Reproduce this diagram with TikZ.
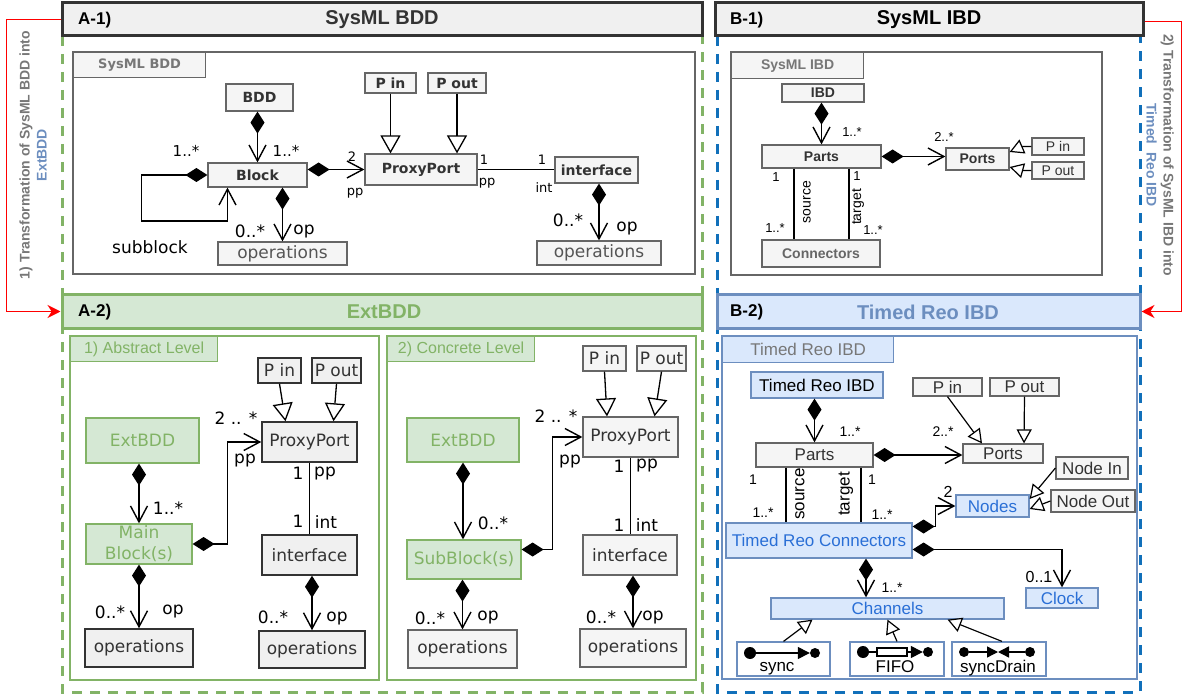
\documentclass[tikz,border=0pt]{standalone}
\usepackage{fontspec}
\setmainfont{Liberation Sans}
\newfontfamily\dv{DejaVu Sans}
\usetikzlibrary{arrows.meta,positioning}
\newcommand{\fsz}[1]{\fontsize{#1}{#1}\selectfont}
\definecolor{hdrgray}{HTML}{F0F0F0}
\definecolor{hdrline}{HTML}{333333}
\definecolor{boxfill}{HTML}{F5F5F5}
\definecolor{boxline}{HTML}{666666}
\definecolor{opgray}{HTML}{555555}
\definecolor{tabtext}{HTML}{777777}
\definecolor{grfill}{HTML}{D5E8D4}
\definecolor{grline}{HTML}{82B366}
\definecolor{blfill}{HTML}{DAE8FC}
\definecolor{blline}{HTML}{6C8EBF}
\definecolor{bltext}{HTML}{2A6FD6}
\definecolor{bldash}{HTML}{1170BA}
\tikzset{
  sz/.style 2 args={minimum width=#1pt, minimum height=#2pt},
  hdr/.style={draw=hdrline, line width=3pt, fill=hdrgray, inner sep=0pt},
  frame/.style={draw=boxline, line width=1.2pt},
  tab/.style={draw=boxline, line width=1.2pt, fill=boxfill, inner sep=0pt, anchor=north west},
  cls/.style={draw=boxline, line width=1.2pt, fill=boxfill, inner sep=0pt, text=hdrline},
  bcls/.style={cls, font=\dv\bfseries\fsz{14}},
  dcls/.style={cls, draw=hdrline, fill=hdrgray, line width=1.5pt, font=\dv\fsz{17}},
  lcls/.style={cls, font=\dv\fsz{17}},
  gcls/.style={cls, draw=grline, fill=grfill, text=grline, font=\dv\fsz{17}},
  icls/.style={cls, font=\bfseries\fsz{14}},
  rcls/.style={cls, font=\fsz{17}},
  bbox/.style={cls, draw=blline, fill=blfill, text=bltext, font=\fsz{17}},
  chbox/.style={draw=blline, fill=white, line width=1.2pt, inner sep=0pt},
  mult/.style={inner sep=0pt, font=\dv\fsz{17}},
  imult/.style={inner sep=0pt, font=\fsz{14}},
  assoc/.style={line width=1.4pt},
  comp/.style={line width=1.4pt, {Diamond[length=22pt,width=14pt]}-{Straight Barb[length=16pt,width=17pt]}},
  gen/.style={line width=1.3pt, -{Triangle[open,fill=white,length=18pt,width=20pt]}},
  sgen/.style={line width=1.2pt, -{Triangle[open,fill=white,length=14pt,width=15pt]}},
  trans/.style={red, line width=1.8pt, -{Stealth[length=13pt,width=13pt]}},
  dot/.style={circle, fill, inner sep=0pt, minimum size=12pt},
  sdot/.style={circle, fill, inner sep=0pt, minimum size=10pt},
}

\begin{document}
\begin{tikzpicture}[x=1pt,y=-1pt]
  \useasboundingbox (0,0) rectangle (1184,695);
  \draw[grline, line width=3pt, dash pattern=on 10pt off 8pt] (62,36) -- (62,692) -- (702,692) -- (702,36);
  \draw[bldash, line width=3pt, dash pattern=on 10pt off 8pt] (717,36) -- (717,692) -- (1140,692) -- (1140,36);

  % A-1
  \node[hdr, sz={640}{33}] (hdrA1) at (382,19.5) {};
  \node[anchor=west, inner sep=0pt, font=\bfseries\fsz{17}] at (78,20) {A-1)};
  \node[font=\bfseries\fsz{20}, text=hdrline] at (382,20) {SysML BDD};
  \draw[frame] (73,52) rectangle (695,274);
  \node[tab, sz={132}{25}, font=\dv\bfseries\fsz{13}, text=tabtext] (tabA1) at (73,52) {SysML BDD};
  \node[bcls, sz={67}{27}] (bdd) at (259.5,97.5) {BDD};
  \node[bcls, sz={99}{24}] (block) at (257.5,175) {Block};
  \node[bcls, sz={51}{20}] (pin1) at (390.5,83) {P in};
  \node[bcls, sz={58}{20}] (pout1) at (457,83) {P out};
  \node[bcls, sz={112}{31}] (proxy1) at (421,169.5) {ProxyPort};
  \node[bcls, sz={83}{26}] (intf1) at (596.5,170) {interface};
  \node[lcls, sz={129}{23}, text=opgray] (ops1) at (282.5,253.5) {operations};
  \node[lcls, sz={124}{24}, text=opgray] (ops2) at (599,253) {operations};
  \draw[comp] (bdd.south -| block.north) -- (block.north);
  \draw[comp] (block.west) -- ++(-66,0) -- ++(0,46) -| ([xshift=-30pt]block.south);
  \draw[comp] (proxy1.west -| block.east) -- (proxy1.west);
  \draw[comp] (block.south -| ops1.north) -- (ops1.north);
  \draw[gen] (pin1.south) -- (pin1.south |- proxy1.north);
  \draw[gen] (pout1.south) -- (pout1.south |- proxy1.north);
  \draw[assoc] (proxy1.east) -- (proxy1.east -| intf1.west);
  \draw[comp] (ops2.north |- intf1.south) -- (ops2.north);
  \node[mult, font=\dv\fsz{15}] at (186,151) {1..*};
  \node[mult, font=\dv\fsz{15}] at (286,151) {1..*};
  \node[mult] at (150,247) {subblock};
  \node[mult, font=\dv\fsz{13}] at (352,157) {2};
  \node[mult, font=\dv\fsz{13}] at (355,193) {pp};
  \node[mult] at (250,231) {0..*};
  \node[mult] at (304,232) {op};
  \node[mult, font=\dv\fsz{13}] at (484,160) {1};
  \node[mult, font=\dv\fsz{13}] at (487,183) {pp};
  \node[mult, font=\dv\fsz{13}] at (542,160) {1};
  \node[mult, font=\dv\fsz{13}] at (544,188) {int};
  \node[mult] at (568,220) {0..*};
  \node[mult] at (627,229) {op};

  % A-2
  \node[hdr, draw=grline, fill=grfill, sz={640}{33}] (hdrA2) at (382,311.5) {};
  \node[anchor=west, inner sep=0pt, font=\bfseries\fsz{17}] at (78,312) {A-2)};
  \node[font=\bfseries\fsz{20}, text=grline] at (384,312) {ExtBDD};
  \draw[frame, draw=grline] (70,336) rectangle (379,680);
  \draw[frame, draw=grline] (387,336) rectangle (696,680);
  \node[tab, draw=grline, fill=grfill, text=grline, sz={147}{25}, font=\fsz{16}] (tabA2) at (70,336) {1) Abstract Level};
  \node[tab, draw=grline, fill=grfill, text=grline, sz={147}{25}, font=\fsz{16}] (tabA3) at (387,336) {2) Concrete Level};

  \node[gcls, sz={113}{45}] (ext1) at (142.5,440.5) {ExtBDD};
  \node[gcls, sz={106}{40}, align=center, font=\dv\fontsize{17}{21}\selectfont] (main1) at (139,544) {Main\\Block(s)};
  \node[dcls, sz={43}{25}] (pin2) at (279.5,370.5) {P in};
  \node[dcls, sz={49}{25}] (pout2) at (336.5,370.5) {P out};
  \node[dcls, sz={95}{40}] (proxy2) at (309.5,442) {ProxyPort};
  \node[dcls, sz={95}{40}] (intf2) at (309.5,555) {interface};
  \node[dcls, sz={108}{38}] (ops3) at (139,648) {operations};
  \node[dcls, sz={106}{37}] (ops4) at (312,649.5) {operations};
  \draw[comp] (main1.north |- ext1.south) -- (main1.north);
  \draw[comp] (main1.east) -- ++(35,0) |- (proxy2.west);
  \draw[gen] (pin2.south) -- ([xshift=-24pt]proxy2.north);
  \draw[gen] (pout2.south) -- ([xshift=24pt]proxy2.north);
  \draw[assoc] (proxy2.south) -- (intf2.north);
  \draw[comp] (main1.south) -- (ops3.north);
  \draw[comp] (ops4.north |- intf2.south) -- (ops4.north);
  \node[mult] at (236,418) {2 .. *};
  \node[mult] at (245,461) {pp};
  \node[mult] at (168,508) {1..*};
  \node[mult] at (298,473) {1};
  \node[mult] at (325,474) {pp};
  \node[mult] at (298,521) {1};
  \node[mult] at (326,522) {int};
  \node[mult] at (110,612) {0..*};
  \node[mult] at (173,612) {op};
  \node[mult] at (273,617) {0..*};
  \node[mult] at (337,619) {op};

  \node[gcls, sz={112}{44}] (ext2) at (463,440) {ExtBDD};
  \node[gcls, sz={114}{39}] (sub2) at (464,559.5) {SubBlock(s)};
  \node[lcls, sz={43}{25}] (pin3) at (604.5,358.5) {P in};
  \node[lcls, sz={49}{25}] (pout3) at (661.5,358.5) {P out};
  \node[lcls, sz={95}{40}] (proxy3) at (630.5,437) {ProxyPort};
  \node[lcls, sz={94}{40}] (intf3) at (630,555) {interface};
  \node[lcls, sz={109}{38}] (ops5) at (462.5,649) {operations};
  \node[lcls, sz={106}{38}] (ops6) at (633,648) {operations};
  \draw[comp] (ext2.south) -- (ext2.south |- sub2.north);
  \draw[comp] ([yshift=10pt]sub2.east) -- ++(31,0) |- (proxy3.west);
  \draw[gen] (pin3.south) -- ([xshift=-23.5pt]proxy3.north);
  \draw[gen] (pout3.south) -- ([xshift=24pt]proxy3.north);
  \draw[assoc] (proxy3.south) -- (proxy3.south |- intf3.north);
  \draw[comp] (sub2.south -| ops5.north) -- (ops5.north);
  \draw[comp] (ops6.north |- intf3.south) -- (ops6.north);
  \node[mult] at (556,416) {2 .. *};
  \node[mult] at (570,462) {pp};
  \node[mult] at (493,523) {0..*};
  \node[mult] at (619,466) {1};
  \node[mult] at (647,466) {pp};
  \node[mult] at (619,525) {1};
  \node[mult] at (647,525) {int};
  \node[mult] at (430,618) {0..*};
  \node[mult] at (488,618) {op};
  \node[mult] at (601,617) {0..*};
  \node[mult] at (653,618) {op};

  % B-1
  \node[hdr, sz={428}{33}] (hdrB1) at (929,19.5) {};
  \node[anchor=west, inner sep=0pt, font=\bfseries\fsz{17}] at (730,20) {B-1)};
  \node[font=\bfseries\fsz{20}] at (929,20) {SysML IBD};
  \draw[frame] (731,52) rectangle (1102,275);
  \node[tab, sz={132}{26}, font=\bfseries\fsz{14}, text=tabtext] (tabB1) at (731,52) {SysML IBD};
  \node[icls, sz={82}{18}] (ibd) at (823,93) {IBD};
  \node[icls, sz={119}{23}] (parts1) at (821.5,156.5) {Parts};
  \node[icls, sz={63}{22}] (ports1) at (977.5,159) {Ports};
  \node[cls, sz={52}{17}, font=\fsz{14}] (pin4) at (1058,146.5) {P in};
  \node[cls, sz={52}{17}, font=\fsz{14}] (pout4) at (1058,170.5) {P out};
  \node[icls, sz={118}{27}, text=boxline] (conn1) at (821,253.5) {Connectors};
  \draw[comp] (ibd.south -| parts1.north) -- (parts1.north);
  \draw[comp] (parts1.east) -- (parts1.east -| ports1.west);
  \draw[sgen] (pin4.west) -- ++(-9,0) -- ([yshift=7pt]ports1.east);
  \draw[sgen] (pout4.west) -- ++(-9,0) -- ([yshift=-8pt]ports1.east);
  \draw[assoc] ([xshift=-27.5pt]parts1.south) -- ([xshift=-27.5pt]parts1.south |- conn1.north);
  \draw[assoc] ([xshift=27.5pt]parts1.south) -- ([xshift=27.5pt]parts1.south |- conn1.north);
  \node[imult, font=\fsz{13}] at (852,132) {1..*};
  \node[imult, font=\fsz{13}] at (944,137) {2..*};
  \node[imult, font=\fsz{13}] at (776,177) {1};
  \node[imult, font=\fsz{13}] at (775,228) {1..*};
  \node[imult, rotate=90] at (807,202) {source};
  \node[imult, rotate=90] at (858,207) {target};
  \node[imult, font=\fsz{13}] at (857,176) {1};
  \node[imult, font=\fsz{13}] at (873,230) {1..*};

  % B-2
  \node[hdr, draw=blline, fill=blfill, sz={423}{33}] (hdrB2) at (928.5,311.5) {};
  \node[anchor=west, inner sep=0pt, font=\bfseries\fsz{17}] at (730,312) {B-2)};
  \node[font=\bfseries\fsz{20}, text=blline] at (928,312) {Timed Reo IBD};
  \draw[frame, draw=blline] (722,336) rectangle (1137,679);
  \node[tab, draw=blline, fill=blfill, sz={171}{26}, font=\fsz{17}, text=tabtext] (tabB2) at (722,336) {Timed Reo IBD};
  \node[bbox, sz={132}{26}, text=black] (trIbd) at (817,385) {Timed Reo IBD};
  \node[rcls, sz={69}{18}] (pin5) at (947.5,387) {P in};
  \node[rcls, sz={69}{18}] (pout5) at (1024.5,387) {P out};
  \node[rcls, sz={117}{24}] (parts2) at (814.5,455) {Parts};
  \node[rcls, sz={80}{19}] (ports2) at (1003,453.5) {Ports};
  \node[rcls, sz={72}{22}] (nodeIn) at (1092,468) {Node In};
  \node[rcls, sz={84}{22}] (nodeOut) at (1093,501) {Node Out};
  \node[bbox, sz={73}{22}] (nodes) at (992.5,506) {Nodes};
  \node[bbox, sz={186}{35}] (trConn) at (819,540.5) {Timed Reo Connectors};
  \node[bbox, sz={72}{20}] (clock) at (1062,598) {Clock};
  \node[bbox, sz={233}{21}] (chan) at (887.5,608.5) {Channels};
  \node[chbox, sz={93}{34}] (syncB) at (783.5,659) {};
  \node[chbox, sz={94}{34}] (fifoB) at (897,659) {};
  \node[chbox, sz={94}{34}] (drainB) at (999,659) {};
  \draw[comp] (parts2.north |- trIbd.south) -- (parts2.north);
  \draw[comp] (parts2.east) -- (parts2.east -| ports2.west);
  \draw[sgen] (pin5.south) -- ([xshift=-21pt]ports2.north);
  \draw[sgen] (pout5.south) -- ([xshift=21pt]ports2.north);
  \draw[sgen] (nodeIn.west) -- ([yshift=7pt]nodes.east);
  \draw[sgen] (nodeOut.west) -- ([yshift=-3pt]nodes.east);
  \draw[assoc] ([xshift=-28.5pt]parts2.south) -- ([xshift=-28.5pt]parts2.south |- trConn.north);
  \draw[assoc] ([xshift=46.5pt]parts2.south) -- ([xshift=46.5pt]parts2.south |- trConn.north);
  \draw[comp] ([yshift=14pt]trConn.east) -- ++(23,0) |- (nodes.west);
  \draw[comp] ([yshift=-9pt]trConn.east) -| (clock.north);
  \draw[comp] ([xshift=47pt]trConn.south) -- ([xshift=47pt]trConn.south |- chan.north);
  \draw[sgen] (syncB.north) -- ([xshift=-75pt]chan.south);
  \draw[sgen] (fifoB.north) -- (chan.south);
  \draw[sgen] ([xshift=3pt]drainB.north) -- ([xshift=60pt]chan.south);
  \node[imult] at (850,432) {1..*};
  \node[imult] at (943,432) {2..*};
  \node[imult] at (753,480) {1};
  \node[imult] at (763,513) {1..*};
  \node[imult, rotate=90, font=\fsz{17}] at (800,494) {source};
  \node[imult, rotate=90, font=\fsz{17}] at (846,494) {target};
  \node[imult] at (872,480) {1};
  \node[imult] at (882,515) {1..*};
  \node[imult, font=\fsz{16}] at (948,492) {2};
  \node[imult, font=\fsz{16}] at (1039,577) {0..1};
  \node[imult] at (892,588) {1..*};

  % channel symbols
  \node[dot] (s1) at (750,653) {};
  \node[sdot] (s2) at (815,653) {};
  \draw[line width=1.4pt, -{Triangle[length=12pt,width=12pt]}] (s1) -- (s2.west);
  \node[dot] (f1) at (863,652) {};
  \node[draw, fill=white, line width=1.2pt, inner sep=0pt, sz={30}{8}] (fbuf) at (892,652) {};
  \node[sdot] (f2) at (928,652) {};
  \draw[line width=1.4pt] (f1) -- (fbuf.west);
  \draw[line width=1.4pt, -{Triangle[length=12pt,width=12pt]}] (fbuf.east) -- (f2.west);
  \node[sdot] (d1) at (964,652) {};
  \node[sdot] (d2) at (1030,652) {};
  \coordinate (dmid) at (998,652);
  \draw[line width=1.4pt, -{Triangle[length=11pt,width=11pt]}] (d1) -- (dmid);
  \draw[line width=1.4pt, -{Triangle[length=11pt,width=11pt]}] (d2) -- (dmid);
  \node[anchor=base, inner sep=0pt, font=\fsz{17}] at (777,671) {sync};
  \node[anchor=base, inner sep=0pt, font=\fsz{17}] at (895,672) {FIFO};
  \node[anchor=base, inner sep=0pt, font=\fsz{17}] at (998,672) {syncDrain};

  % transformations
  \draw[trans] (hdrA1.west) -- ++(-54,0) |- (hdrA2.west);
  \draw[trans] ([yshift=-2pt]hdrB1.east) -- ++(37,0) |- (hdrB2.east);
  \node[rotate=90, align=center, font=\bfseries\fontsize{14}{17}\selectfont, text=tabtext] at (33,155) {1) Transformation of SysML BDD into\\\textcolor{blline}{ExtBDD}};
  \node[rotate=-90, align=center, font=\bfseries\fontsize{14}{17}\selectfont, text=tabtext] at (1160,155) {2) Transformation of SysML IBD into\\\textcolor{blline}{Timed\ \ Reo IBD}};
\end{tikzpicture}
\end{document}
